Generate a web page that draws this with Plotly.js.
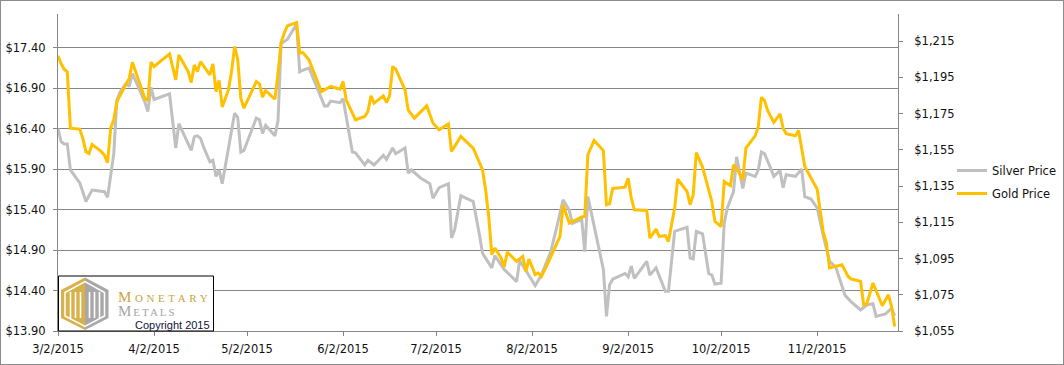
<!DOCTYPE html>
<html><head><meta charset="utf-8">
<script src="https://cdn.plot.ly/plotly-3.0.1.min.js"></script>
<style>
html,body{margin:0;padding:0;background:#fff;}
#wrap{width:1064px;height:365px;box-sizing:border-box;border:1px solid #8c8c8c;overflow:hidden;}
#chart{width:1062px;height:363px;}
</style></head><body>
<div id="wrap"><div id="chart"></div></div>
<script>
const goldDates = ['2015-03-02','2015-03-03','2015-03-04','2015-03-05','2015-03-06','2015-03-09','2015-03-10','2015-03-11','2015-03-12','2015-03-13','2015-03-16','2015-03-17','2015-03-18','2015-03-19','2015-03-20','2015-03-21','2015-03-25','2015-03-26','2015-03-30','2015-03-31',
'2015-04-01','2015-04-02','2015-04-07','2015-04-09','2015-04-10','2015-04-13','2015-04-14','2015-04-15','2015-04-16','2015-04-17','2015-04-20','2015-04-21','2015-04-22','2015-04-23','2015-04-24','2015-04-26','2015-04-27','2015-04-28','2015-04-29','2015-04-30',
'2015-05-01','2015-05-05','2015-05-06','2015-05-07','2015-05-08','2015-05-11','2015-05-12','2015-05-13','2015-05-14','2015-05-15','2015-05-18','2015-05-19','2015-05-20','2015-05-21','2015-05-22','2015-05-26','2015-05-27','2015-05-29',
'2015-06-01','2015-06-02','2015-06-03','2015-06-06','2015-06-09','2015-06-10','2015-06-11','2015-06-12','2015-06-15','2015-06-16','2015-06-17','2015-06-18','2015-06-19','2015-06-22','2015-06-23','2015-06-25','2015-06-29',
'2015-07-01','2015-07-03','2015-07-06','2015-07-07','2015-07-10','2015-07-14','2015-07-17','2015-07-18','2015-07-19','2015-07-20','2015-07-21','2015-07-23','2015-07-24','2015-07-25','2015-07-28','2015-07-30','2015-07-31',
'2015-08-01','2015-08-03','2015-08-04','2015-08-05','2015-08-07','2015-08-11','2015-08-12','2015-08-14','2015-08-18','2015-08-19','2015-08-20','2015-08-22','2015-08-25','2015-08-26','2015-08-27','2015-08-28',
'2015-09-01','2015-09-02','2015-09-03','2015-09-04','2015-09-08','2015-09-09','2015-09-11','2015-09-12','2015-09-14','2015-09-15','2015-09-17','2015-09-18','2015-09-21','2015-09-22','2015-09-23','2015-09-24','2015-09-26','2015-09-29','2015-09-30',
'2015-10-02','2015-10-03','2015-10-05','2015-10-06','2015-10-07','2015-10-09','2015-10-10','2015-10-13','2015-10-14','2015-10-15','2015-10-16','2015-10-17','2015-10-19','2015-10-21','2015-10-22','2015-10-23','2015-10-26','2015-10-27','2015-10-29',
'2015-11-02','2015-11-04','2015-11-05','2015-11-06','2015-11-10','2015-11-12','2015-11-13','2015-11-16','2015-11-17','2015-11-18','2015-11-20','2015-11-23','2015-11-25','2015-11-26','2015-11-27'];
const goldPrices = [1207,1202.5,1199.5,1198,1167,1166.5,1161.5,1154,1153,1158,1154,1152,1148,1167,1171.6,1181.7,1194.6,1203.4,1183.5,1182.2,
1203.4,1201,1208,1193.6,1207.4,1198.2,1192.2,1201.9,1198.2,1203.7,1196.4,1202.5,1187.2,1193.3,1178.6,1188.1,1198.2,1212,1205,1183.5,
1178,1192.7,1191.4,1184.1,1187.7,1183,1197.3,1214.2,1219.4,1223.4,1225.3,1208.4,1208.7,1206.5,1204.7,1187.2,1188.1,1190,
1188.5,1192.7,1182.6,1171.6,1173.4,1176.2,1184.8,1180.8,1184.8,1181.1,1184.8,1201,1199.5,1188.1,1177.1,1172.5,1179.3,
1169.8,1166.1,1169.4,1154.1,1162.4,1156,1144,1133,1118.2,1097.1,1100.8,1095.3,1090.3,1098.6,1093.4,1096.2,1087.9,
1094.7,1086.1,1087,1085.1,1092.1,1107.2,1124.7,1114.6,1117.9,1118.2,1152.3,1160.2,1154.6,1124.7,1125.2,1133.7,
1134.4,1139.4,1128.4,1121.9,1121.5,1106.3,1111.3,1107.2,1107.6,1104.4,1122.9,1138.9,1132,1124.7,1130.2,1153.5,1145.5,1126.5,1115.5,
1112.7,1137.5,1135.2,1146.7,1144.9,1138.5,1156,1162.7,1167.9,1184.1,1182.2,1176.7,1170.1,1174.9,1167,1163.9,1162.8,1165.7,1145.8,
1133.3,1109.1,1103.5,1089.8,1091.6,1085.1,1083.7,1082.4,1069.5,1070,1081.5,1069,1075,1068.6,1057.5];

const silverDates = ['2015-03-02','2015-03-03','2015-03-04','2015-03-05','2015-03-06','2015-03-09','2015-03-10','2015-03-11','2015-03-13','2015-03-16','2015-03-17','2015-03-18','2015-03-19','2015-03-20','2015-03-21','2015-03-22','2015-03-24','2015-03-25','2015-03-26','2015-03-30','2015-03-31',
'2015-04-01','2015-04-02','2015-04-07','2015-04-09','2015-04-10','2015-04-14','2015-04-15','2015-04-16','2015-04-17','2015-04-18','2015-04-20','2015-04-21','2015-04-22','2015-04-23','2015-04-24','2015-04-28','2015-04-29','2015-04-30',
'2015-05-01','2015-05-05','2015-05-06','2015-05-07','2015-05-08','2015-05-11','2015-05-12','2015-05-13','2015-05-15','2015-05-18','2015-05-19','2015-05-20','2015-05-22','2015-05-27','2015-05-28','2015-05-29',
'2015-06-01','2015-06-02','2015-06-03','2015-06-05','2015-06-06','2015-06-09','2015-06-10','2015-06-12','2015-06-15','2015-06-16','2015-06-18','2015-06-19','2015-06-22','2015-06-23','2015-06-24','2015-06-27','2015-06-30',
'2015-07-01','2015-07-03','2015-07-06','2015-07-07','2015-07-08','2015-07-10','2015-07-14','2015-07-16','2015-07-17','2015-07-20','2015-07-21','2015-07-24','2015-07-28','2015-07-29',
'2015-08-03','2015-08-05','2015-08-08','2015-08-10','2015-08-12','2015-08-14','2015-08-15','2015-08-18','2015-08-19','2015-08-20','2015-08-24','2015-08-25','2015-08-26','2015-08-27','2015-08-28',
'2015-09-01','2015-09-02','2015-09-03','2015-09-04','2015-09-08','2015-09-09','2015-09-11','2015-09-14','2015-09-15','2015-09-17','2015-09-21','2015-09-22','2015-09-23','2015-09-24','2015-09-26','2015-09-28','2015-09-29','2015-09-30',
'2015-10-02','2015-10-03','2015-10-04','2015-10-06','2015-10-07','2015-10-09','2015-10-10','2015-10-13','2015-10-14','2015-10-15','2015-10-16','2015-10-18','2015-10-19','2015-10-21','2015-10-22','2015-10-23','2015-10-26','2015-10-28','2015-10-29','2015-10-31',
'2015-11-02','2015-11-04','2015-11-06','2015-11-08','2015-11-09','2015-11-11','2015-11-13','2015-11-16','2015-11-18','2015-11-20','2015-11-21','2015-11-24','2015-11-26','2015-11-27'];
const silverPrices = [16.40,16.24,16.21,16.21,15.89,15.73,15.62,15.50,15.64,15.63,15.62,15.55,15.80,16.09,16.75,16.85,16.96,16.92,17.08,16.73,16.61,
16.91,16.76,16.83,16.16,16.46,16.13,16.30,16.31,16.28,16.17,15.99,16.01,15.81,15.89,15.72,16.59,16.54,16.11,
16.13,16.53,16.51,16.34,16.44,16.31,16.50,17.45,17.50,17.69,17.10,17.12,17.15,16.68,16.68,16.74,
16.72,16.77,16.54,16.11,16.10,15.95,16.01,15.95,16.07,16.02,16.16,16.09,16.16,15.85,15.89,15.79,15.72,
15.54,15.67,15.72,15.05,15.15,15.57,15.50,15.09,14.86,14.68,14.83,14.66,14.51,14.77,
14.46,14.59,14.88,15.19,15.52,15.39,15.23,15.28,14.88,15.56,14.82,14.66,14.08,14.47,14.54,
14.61,14.57,14.70,14.55,14.76,14.59,14.68,14.39,14.39,15.13,15.18,14.80,14.79,15.13,15.10,14.61,14.59,14.48,
14.49,15.23,15.42,15.62,16.05,15.66,15.85,15.81,15.89,16.11,16.09,15.91,15.81,15.88,15.67,15.83,15.81,15.90,15.56,15.53,
15.42,15.07,14.76,14.69,14.57,14.34,14.26,14.16,14.22,14.24,14.08,14.11,14.18,14.09];

const silverTicks = [13.90,14.40,14.90,15.40,15.90,16.40,16.90,17.40];
const goldTicks = [1055,1075,1095,1115,1135,1155,1175,1195,1215];
const dateTicks = ['2015-03-02','2015-04-02','2015-05-02','2015-06-02','2015-07-02','2015-08-02','2015-09-02','2015-10-02','2015-11-02'];
const dateTickLabels = ['3/2/2015','4/2/2015','5/2/2015','6/2/2015','7/2/2015','8/2/2015','9/2/2015','10/2/2015','11/2/2015'];

// page pixel -> paper coordinates (plot area spans page x 58..898, y 14..331)
const px = x => (x - 58) / 840;
const py = y => (331 - y) / 317;
const P = pts => 'M' + pts.map(p => px(p[0]) + ',' + py(p[1])).join('L') + 'Z';

const AX = '#868686';
const txt = {family: 'DejaVu Sans', size: 11.5, color: '#111111'};

const traces = [
  {x: silverDates, y: silverPrices, name: 'Silver Price', type: 'scatter', mode: 'lines',
   line: {color: '#C0C0C0', width: 3}, yaxis: 'y', legendgroup: 's'},
  {x: goldDates, y: goldPrices, name: 'Gold Price', type: 'scatter', mode: 'lines',
   line: {color: '#FFC000', width: 3}, yaxis: 'y2', legendgroup: 'g'}
];

const shapes = [
  {type: 'rect', xref: 'paper', yref: 'paper', x0: px(58.5), x1: px(213.5), y0: py(331), y1: py(276),
   fillcolor: '#ffffff', line: {color: '#000000', width: 1}, layer: 'above'},
  {type: 'path', xref: 'paper', yref: 'paper', path: P([[61,290],[85,277.5],[85,330],[61,318]]),
   fillcolor: '#D8B14A', line: {width: 0}, layer: 'above'},
  {type: 'path', xref: 'paper', yref: 'paper', path: P([[85,277.5],[108.5,290],[108.5,318],[85,330]]),
   fillcolor: '#A8A8A8', line: {width: 0}, layer: 'above'},
  {type: 'path', xref: 'paper', yref: 'paper', path: P([[65,292.5],[85,281.5],[104.5,292.5],[104.5,316],[85,326.5],[65,316]]),
   fillcolor: 'rgba(0,0,0,0)', line: {color: '#ffffff', width: 1.5}, layer: 'above'}
];
[70.5, 75.5, 80.5, 89.5, 94.5, 99.5].forEach(x => {
  shapes.push({type: 'line', xref: 'paper', yref: 'paper', x0: px(x), x1: px(x), y0: py(318), y1: py(292),
    line: {color: '#ffffff', width: 1.6}, layer: 'above'});
});

const annotations = [
  {xref: 'paper', yref: 'paper', x: px(116), y: py(296.5), xanchor: 'left', yanchor: 'middle', showarrow: false,
   text: '<span style="letter-spacing:3.6px">Monetary</span>',
   font: {family: 'Liberation Serif', size: 15, color: '#C9A43C', variant: 'small-caps'}},
  {xref: 'paper', yref: 'paper', x: px(116), y: py(310.5), xanchor: 'left', yanchor: 'middle', showarrow: false,
   text: '<span style="letter-spacing:2px">Metals</span>',
   font: {family: 'Liberation Serif', size: 15, color: '#A6A6A6', variant: 'small-caps'}},
  {xref: 'paper', yref: 'paper', x: px(172.5), y: py(324.5), xanchor: 'center', yanchor: 'middle', showarrow: false,
   text: 'Copyright 2015', font: {family: 'Liberation Sans', size: 11, color: '#12123a'}}
];

const layout = {
  width: 1062, height: 363,
  margin: {l: 57, r: 165, t: 13, b: 33, pad: 0, autoexpand: false},
  paper_bgcolor: '#ffffff', plot_bgcolor: '#ffffff',
  showlegend: true,
  font: txt,
  xaxis: {type: 'date', range: ['2015-03-02', '2015-11-28 02:00'], tickmode: 'array',
    tickvals: dateTicks, ticktext: dateTickLabels, ticks: 'outside', ticklen: 4, tickcolor: AX,
    showgrid: false, zeroline: false, showline: true, linecolor: AX, linewidth: 1,
    tickfont: txt, ticklabelstandoff: 3, fixedrange: true, automargin: false},
  yaxis: {range: [13.90, 17.815], tickmode: 'array', tickvals: silverTicks,
    ticktext: silverTicks.map(v => '$' + v.toFixed(2)), ticks: 'outside', ticklen: 4, tickcolor: AX,
    showgrid: true, gridcolor: AX, gridwidth: 1, zeroline: false, showline: true, linecolor: AX, linewidth: 1,
    tickfont: txt, ticklabelstandoff: 5, automargin: false},
  yaxis2: {overlaying: 'y', side: 'right', range: [1055, 1230], tickmode: 'array', tickvals: goldTicks,
    ticktext: goldTicks.map(v => '$' + v.toLocaleString('en-US')), ticks: 'outside', ticklen: 4, tickcolor: AX,
    showgrid: false, zeroline: false, showline: true, linecolor: AX, linewidth: 1,
    tickfont: txt, ticklabelstandoff: 9, automargin: false},
  legend: {x: px(952), xanchor: 'left', y: py(156), yanchor: 'top', font: txt,
    bgcolor: 'rgba(0,0,0,0)', traceorder: 'grouped', tracegroupgap: 4, itemwidth: 30},
  shapes: shapes,
  annotations: annotations
};

Plotly.newPlot('chart', traces, layout, {staticPlot: true, displayModeBar: false});
</script>
</body></html>
